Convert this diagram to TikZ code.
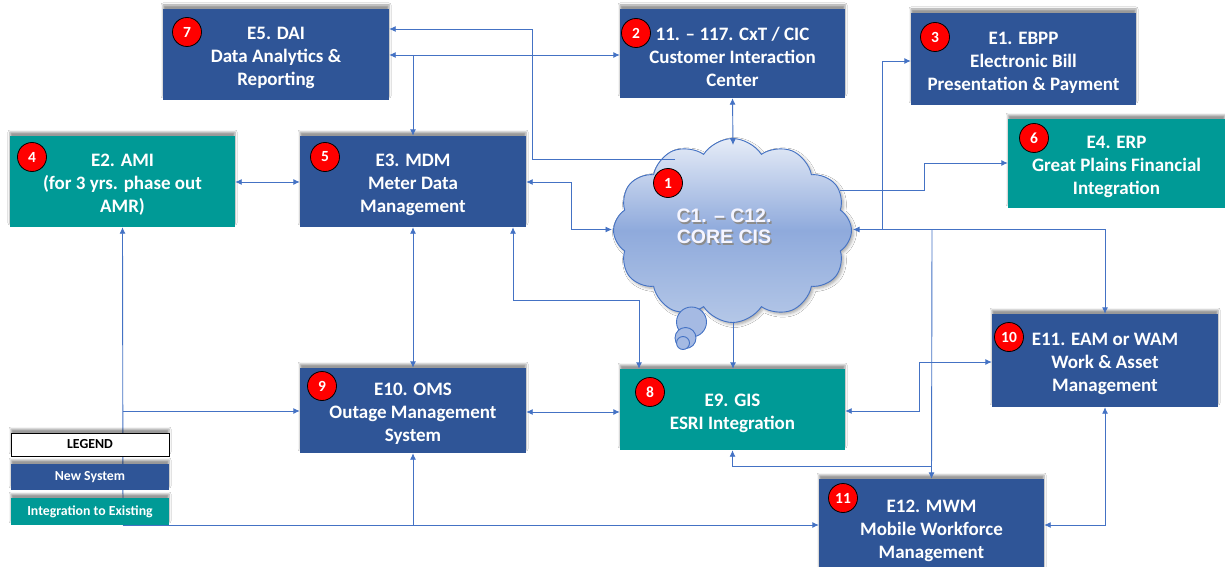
\documentclass[tikz,border=0pt]{standalone}
\usepackage{fontspec}
\setmainfont{Carlito}
\newfontfamily\arialf{Liberation Sans}
\usetikzlibrary{arrows.meta,shapes.symbols,shadows.blur}
\definecolor{navy}{HTML}{2F5597}
\definecolor{boxteal}{HTML}{009A96}
\definecolor{conn}{HTML}{4472C4}
\definecolor{cloudtop}{HTML}{E6ECF7}
\definecolor{cloudmid}{HTML}{8FAADC}
\definecolor{cloudbot}{HTML}{B4C7E7}
\begin{document}
\begin{tikzpicture}[x=1pt,y=-1pt,
  sysbox/.style={inner sep=0pt,
    blur shadow={shadow xshift=0pt, shadow yshift=4pt, shadow blur radius=2pt, shadow opacity=40}},
  newsys/.style={sysbox, fill=navy},
  existsys/.style={sysbox, fill=boxteal},
  boxtext/.style={text=white, font=\bfseries\fontsize{19}{23}\selectfont, align=center, inner sep=0pt},
  badge/.style={circle, fill=red, draw=black, line width=0.8pt, minimum size=29, inner sep=0pt,
    text=white, font=\bfseries\fontsize{15.5}{15.5}\selectfont},
  cn/.style={draw=conn, line width=0.9pt},
  tip/.style={-{Latex[length=6.5pt,width=6pt]}},
  tips/.style={{Latex[length=6.5pt,width=6pt]}-{Latex[length=6.5pt,width=6pt]}},
  legbox/.style={minimum width=158, inner sep=0pt, font=\bfseries\fontsize{13.8}{14}\selectfont,
    blur shadow={shadow xshift=0pt, shadow yshift=4pt, shadow blur radius=2pt, shadow opacity=40}},
  bubble/.style={draw=conn, line width=0.9pt, fill=cloudmid!75!cloudtop}
]
\fill[white] (0,0) rectangle (1225,567);
\useasboundingbox (0,0) rectangle (1225,567);

% ---- system boxes
\node[newsys, minimum width=226, minimum height=91] (dai) at (276,54.5) {};
\node[newsys, minimum width=225, minimum height=89] (cic) at (732.5,53.5) {};
\node[newsys, minimum width=225, minimum height=92] (ebpp) at (1023.5,59) {};
\node[existsys, minimum width=217, minimum height=89] (erp) at (1116.5,163.5) {};
\node[existsys, minimum width=225, minimum height=91] (ami) at (122.5,181.5) {};
\node[newsys, minimum width=226, minimum height=91] (mdm) at (413,181.5) {};
\node[newsys, minimum width=226, minimum height=85] (oms) at (413,410.5) {};
\node[existsys, minimum width=225, minimum height=81] (gis) at (732.5,409.5) {};
\node[newsys, minimum width=226, minimum height=93] (eam) at (1105,360.5) {};
\node[newsys, minimum width=225, minimum height=96] (mwm) at (931.5,527) {};

\node[boxtext] (dai-t) at ([yshift=-3.5pt]dai.center) {E5. DAI\\Data Analytics \&\\Reporting};
\node[boxtext] (cic-t) at ([yshift=-3.5pt]cic.center) {11. – 117. CxT / CIC\\Customer Interaction\\Center};
\node[boxtext] (ebpp-t) at ([yshift=-3.5pt]ebpp.center) {E1. EBPP\\Electronic Bill\\Presentation \& Payment};
\node[boxtext] (erp-t) at ([yshift=-3.5pt]erp.center) {E4. ERP\\Great Plains Financial\\Integration};
\node[boxtext] (ami-t) at ([yshift=-3.5pt]ami.center) {E2. AMI\\(for 3 yrs. phase out\\AMR)};
\node[boxtext] (mdm-t) at ([yshift=-3.5pt]mdm.center) {E3. MDM\\Meter Data\\Management};
\node[boxtext] (oms-t) at ([yshift=-3.5pt]oms.center) {E10. OMS\\Outage Management\\System};
\node[boxtext] (gis-t) at ([yshift=-3.5pt]gis.center) {E9. GIS\\ESRI Integration};
\node[boxtext] (eam-t) at ([yshift=-3.5pt]eam.center) {E11. EAM or WAM\\Work \& Asset\\Management};
\node[boxtext] (mwm-t) at ([yshift=-3.5pt]mwm.center) {E12. MWM\\Mobile Workforce\\Management};

% ---- cloud
\node[cloud, cloud puffs=12, cloud puff arc=115, cloud ignores aspect, minimum width=238, minimum height=184,
  draw=conn, line width=0.9pt, top color=cloudtop, bottom color=cloudbot, middle color=cloudmid,
  blur shadow={shadow xshift=2pt, shadow yshift=-2pt, shadow blur radius=3pt, shadow opacity=35}]
  (cloud) at (732.5,230.5) {};
\node[bubble, circle, minimum size=30, inner sep=0pt] (bb1) at (691.5,322) {};
\node[bubble, circle, minimum size=21, inner sep=0pt] (bb2) at (685.5,338) {};
\node[bubble, circle, minimum size=13, inner sep=0pt] (bb3) at (683,343) {};

\coordinate (cW) at (612,229.5);
\coordinate (cE) at (853,229.5);
\coordinate (cT) at (733,145);
\coordinate (cB) at (733,323);
\coordinate (cIn1) at (675,159);
\coordinate (cIn2) at (840,190);

% ---- connectors
\draw[cn,tip] (cIn1) -| (532,29) -- (dai.east |- 0,29);
\draw[cn,tips] (dai.east |- 0,55) -- (cic.west |- 0,55);
\draw[cn,tip] (413,55) -- (mdm.north);
\draw[cn,tips] (cic.south) -- (cT);
\draw[cn,tips] (ami.east |- 0,182) -- (mdm.west |- 0,182);
\draw[cn,tips] (mdm.east |- 0,182) -| (571,229.5) -- (cW);
\draw[cn,tip] (cIn2) -| (924,163) -- (erp.west |- 0,163);
\draw[cn,tips] (cE) -| (eam.north);
\draw[cn,tip] (882,229.5) |- (ebpp.west |- 0,61);
\draw[cn,tip] (932,229.5) -- (mwm.north);
\draw[cn,tip] (932,466) -| (gis.south);
\draw[cn,tip] (cB) -- (gis.north -| cB);
\draw[cn,tips] (mdm.south -| 513,0) |- (639,300) -- (gis.north -| 639,0);
\draw[cn,tips] (mdm.south) -- (oms.north);
\draw[cn,tips] (oms.east |- 0,412) -- (gis.west |- 0,412);
\draw[cn,tips] (gis.east |- 0,411) -| (919,362) -- (eam.west |- 0,362);
\draw[cn,tips] (eam.south) |- (mwm.east |- 0,525);
\draw[cn,tip] (123,525) -- (ami.south);
\draw[cn,tip] (123,411) -- (oms.west |- 0,411);
\draw[cn,tip] (123,525) -- (mwm.west |- 0,525);
\draw[cn,tip] (413,525) -- (oms.south);

% ---- legend
\node[legbox, draw=black, line width=1pt, fill=white, minimum height=23] (legt) at (90,444.5) {LEGEND};
\node[legbox, fill=navy, text=white, minimum height=26] (legn) at (90,477) {New System};
\node[legbox, fill=boxteal, text=white, minimum height=27] (lege) at (90,511.5) {Integration to Existing};

% ---- cloud text
\node[font=\arialf\bfseries\fontsize{19.5}{21}\selectfont, text=black!45, align=center] (ctxs) at (725.5,228) {C1. – C12.\\CORE CIS};
\node[font=\arialf\bfseries\fontsize{19.5}{21}\selectfont, text=white!96!blue, align=center] (ctx) at (724,226.5) {C1. – C12.\\CORE CIS};

% ---- badges
\node[badge] (b1) at (668,183) {1};
\node[badge] (b2) at (636,33) {2};
\node[badge] (b3) at (935,37) {3};
\node[badge] (b4) at (32,157) {4};
\node[badge] (b5) at (325,157) {5};
\node[badge] (b6) at (1034,138) {6};
\node[badge] (b7) at (187,32) {7};
\node[badge] (b8) at (650,392) {8};
\node[badge] (b9) at (322,386) {9};
\node[badge] (b10) at (1009,337) {10};
\node[badge] (b11) at (843,498) {11};
\end{tikzpicture}
\end{document}
